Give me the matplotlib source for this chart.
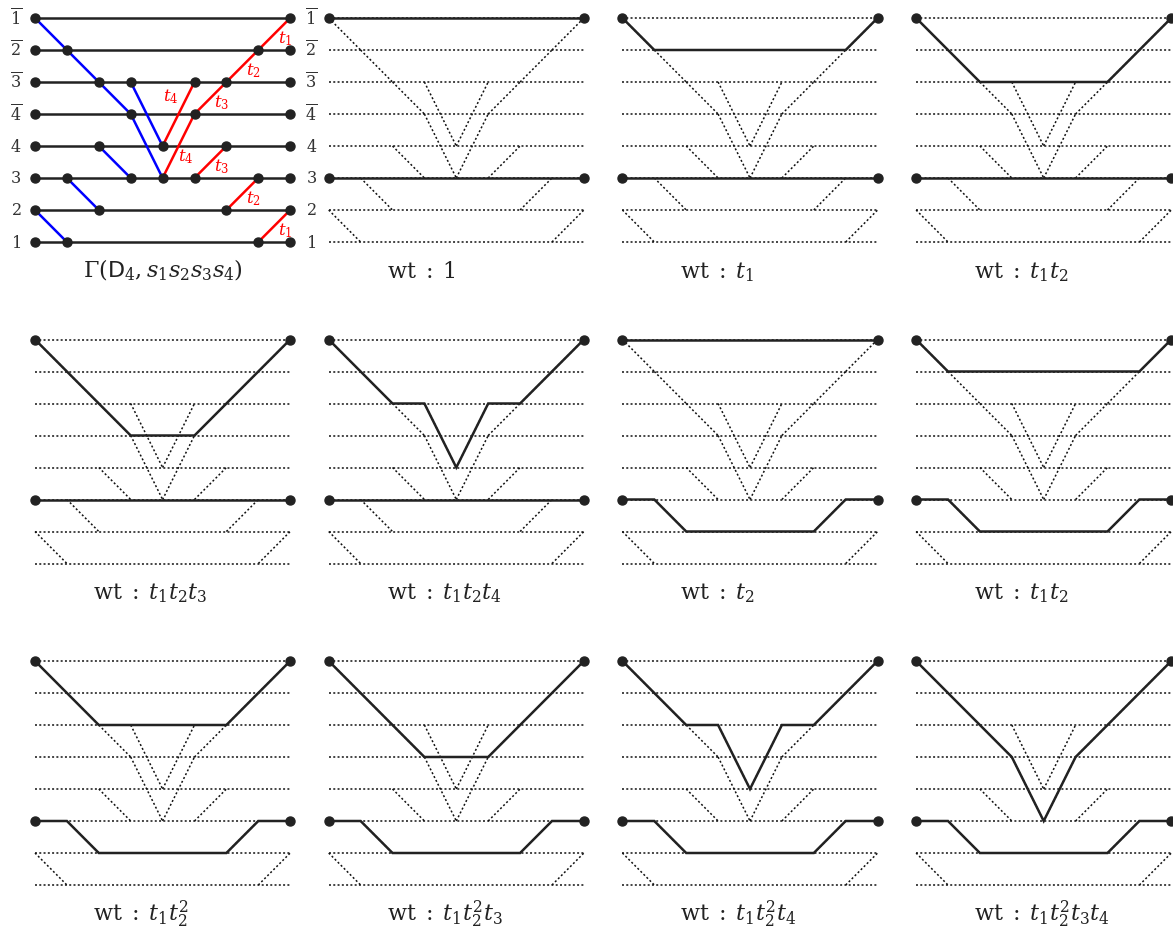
import matplotlib
matplotlib.use("Agg")
import matplotlib.pyplot as plt

plt.rcParams['mathtext.fontset'] = 'custom'
plt.rcParams['mathtext.rm'] = 'DejaVu Serif'
plt.rcParams['mathtext.it'] = 'DejaVu Serif:italic'
plt.rcParams['mathtext.sf'] = 'DejaVu Sans'

# network of D4: rows 0..7 from bottom (1) to top (1bar), columns 0..8
row_labels = ["1", "2", "3", "4", r"\overline{4}", r"\overline{3}", r"\overline{2}", r"\overline{1}"]
n_cols = 9

# edges as ((col, row), (col, row))
blue_edges = [((0, 7), (1, 6)), ((1, 6), (2, 5)), ((2, 5), (3, 4)), ((3, 4), (4, 2)),
              ((3, 5), (4, 3)), ((2, 3), (3, 2)), ((1, 2), (2, 1)), ((0, 1), (1, 0))]
red_edges = [((7, 0), (8, 1)), ((6, 1), (7, 2)), ((5, 2), (6, 3)), ((4, 2), (5, 4)),
             ((5, 4), (6, 5)), ((6, 5), (7, 6)), ((7, 6), (8, 7)), ((4, 3), (5, 5))]
red_labels = ["1", "2", "3", "4", "3", "2", "1", "4"]

# path families (top path from 1bar to 1bar, bottom path from 3 to 3)
top_flat = [(0, 7), (8, 7)]
top_t1 = [(0, 7), (1, 6), (7, 6), (8, 7)]
top_t1t2 = [(0, 7), (1, 6), (2, 5), (6, 5), (7, 6), (8, 7)]
top_t1t2t3 = [(0, 7), (1, 6), (2, 5), (3, 4), (5, 4), (6, 5), (7, 6), (8, 7)]
top_t1t2t4 = [(0, 7), (1, 6), (2, 5), (3, 5), (4, 3), (5, 5), (6, 5), (7, 6), (8, 7)]
top_all = [(0, 7), (1, 6), (2, 5), (3, 4), (4, 2), (5, 4), (6, 5), (7, 6), (8, 7)]
bot_flat = [(0, 2), (8, 2)]
bot_t2 = [(0, 2), (1, 2), (2, 1), (6, 1), (7, 2), (8, 2)]

panels = [
    (r"1", top_flat, bot_flat),
    (r"t_1", top_t1, bot_flat),
    (r"t_1t_2", top_t1t2, bot_flat),
    (r"t_1t_2t_3", top_t1t2t3, bot_flat),
    (r"t_1t_2t_4", top_t1t2t4, bot_flat),
    (r"t_2", top_flat, bot_t2),
    (r"t_1t_2", top_t1, bot_t2),
    (r"t_1t_2^2", top_t1t2, bot_t2),
    (r"t_1t_2^2t_3", top_t1t2t3, bot_t2),
    (r"t_1t_2^2t_4", top_t1t2t4, bot_t2),
    (r"t_1t_2^2t_3t_4", top_all, bot_t2),
]

# layout in pixels
X0, Y0 = 35, 18
DX, DY = 31.9, 32
PANEL_DX, PANEL_DY = 293.7, 321.5


def to_px(gc, gr, c, r):
    x = X0 + gc * PANEL_DX + c * DX
    y = Y0 + gr * PANEL_DY + (7 - r) * DY
    return x, y


fig = plt.figure(figsize=(11.73, 9.32), dpi=100)
ax = fig.add_axes([0, 0, 1, 1])
ax.set_xlim(0, 1173)
ax.set_ylim(932, 0)
ax.axis("off")

line_col = "#222222"
dot_style = dict(color="#111111", lw=1.1, linestyle=(0, (1.3, 1.5)))

# first panel: the network itself
dots = set()
for r in range(8):
    xa, ya = to_px(0, 0, 0, r)
    xb, yb = to_px(0, 0, n_cols - 1, r)
    ax.plot([xa, xb], [ya, yb], color=line_col, lw=1.8, solid_capstyle="butt", zorder=2)
    dots.add((0, r))
    dots.add((n_cols - 1, r))
    ax.text(xa - 19, ya, "$" + row_labels[r] + "$", fontsize=11.5, color="#333333",
            ha="center", va="center")
    ax.text(xb + 21, yb, "$" + row_labels[r] + "$", fontsize=11.5, color="#333333",
            ha="center", va="center")
for (p, q) in blue_edges:
    xa, ya = to_px(0, 0, *p)
    xb, yb = to_px(0, 0, *q)
    ax.plot([xa, xb], [ya, yb], color="#0000ff", lw=1.8, zorder=3)
    dots.add(p)
    dots.add(q)
for (p, q), lab in zip(red_edges, red_labels):
    xa, ya = to_px(0, 0, *p)
    xb, yb = to_px(0, 0, *q)
    ax.plot([xa, xb], [ya, yb], color="#ff0000", lw=1.8, zorder=3)
    dots.add(p)
    dots.add(q)
    mx, my = (xa + xb) / 2, (ya + yb) / 2
    if p == (4, 3):
        mx, my = mx - 8, my - 17
    elif p == (4, 2):
        mx, my = mx + 7, my + 11
    else:
        mx, my = mx + 11, my + 5
    ax.text(mx, my, "$t_" + lab + "$", fontsize=12, color="#ff0000",
            ha="center", va="center", zorder=4)
for (c, r) in dots:
    x, y = to_px(0, 0, c, r)
    ax.plot(x, y, "o", color=line_col, ms=6.5, zorder=5)
ax.text(163, 277, r"$\Gamma(\mathsf{D}_4,s_1s_2s_3s_4)$", fontsize=16, color=line_col,
        ha="center", va="baseline")

# the path panels
for k, (wt, top, bot) in enumerate(panels):
    gc, gr = (k + 1) % 4, (k + 1) // 4
    for r in range(8):
        xa, ya = to_px(gc, gr, 0, r)
        xb, yb = to_px(gc, gr, n_cols - 1, r)
        ax.plot([xa, xb], [ya, yb], zorder=1, **dot_style)
    for (p, q) in blue_edges + red_edges:
        xa, ya = to_px(gc, gr, *p)
        xb, yb = to_px(gc, gr, *q)
        ax.plot([xa, xb], [ya, yb], zorder=1, **dot_style)
    for path in (top, bot):
        xs, ys = zip(*[to_px(gc, gr, c, r) for (c, r) in path])
        ax.plot(xs, ys, color=line_col, lw=1.8, zorder=3, solid_joinstyle="miter")
        for i in (0, -1):
            ax.plot(xs[i], ys[i], "o", color=line_col, ms=6.5, zorder=5)
    lx, ly = to_px(gc, gr, 0, 0)
    ax.text(lx + 58, ly + 36, r"$\mathrm{wt}\;:\;" + wt + "$", fontsize=16, color=line_col,
            ha="left", va="baseline")

fig.savefig("out.png", dpi=100)
